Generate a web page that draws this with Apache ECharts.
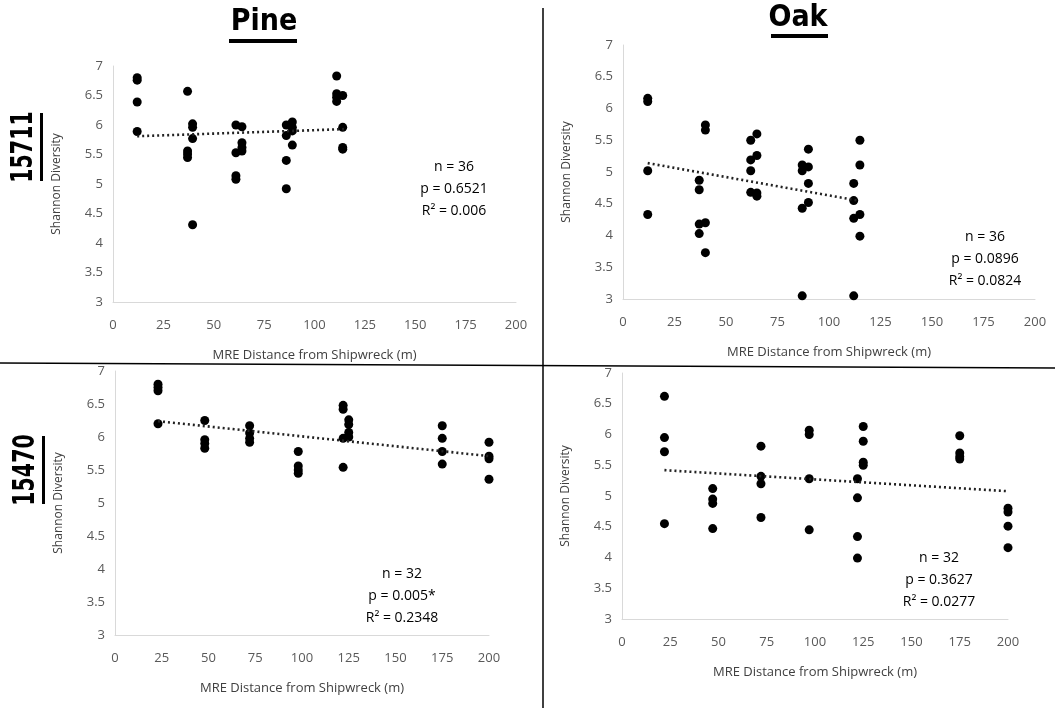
<!DOCTYPE html>
<html><head><meta charset="utf-8">
<script src="https://cdn.jsdelivr.net/npm/echarts@6/dist/echarts.min.js"></script>
<style>html,body{margin:0;padding:0;background:#fff}#c{width:1055px;height:708px}</style>
</head><body><div id="c"></div>
<script>
// ---- data ----
const columnTitles = ['Pine', 'Oak'];
const rowTitles = ['15711', '15470'];
const xAxisTitle = 'MRE Distance from Shipwreck (m)';
const yAxisTitle = 'Shannon Diversity';

const pine15711 = [
  [12,6.80],[12,6.76],[12,6.39],[12,5.89],
  [37,6.57],[37,5.56],[37,5.51],[37,5.45],
  [39.5,6.02],[39.5,5.96],[39.5,5.77],[39.5,4.31],
  [61,6.00],[61,5.53],[61,5.14],[61,5.08],
  [64,5.97],[64,5.70],[64,5.62],[64,5.56],
  [86,6.00],[86,5.82],[86,5.40],[86,4.92],
  [89,6.05],[89,5.96],[89,5.90],[89,5.66],
  [111,6.83],[111,6.53],[111,6.47],[111,6.40],
  [114,6.50],[114,5.96],[114,5.62],[114,5.59]
];
const oak15711 = [
  [12,6.16],[12,6.11],[12,5.02],[12,4.33],
  [37,4.87],[37,4.72],[37,4.18],[37,4.03],
  [40,5.74],[40,5.66],[40,4.20],[40,3.73],
  [62,5.50],[62,5.19],[62,5.02],[62,4.68],
  [65,5.60],[65,5.26],[65,4.67],[65,4.62],
  [87,5.11],[87,5.02],[87,4.43],[87,3.05],
  [90,5.36],[90,5.08],[90,4.82],[90,4.52],
  [112,4.82],[112,4.55],[112,4.27],[112,3.05],
  [115,5.50],[115,5.11],[115,4.33],[115,3.99]
];
const pine15470 = [
  [23,6.80],[23,6.75],[23,6.70],[23,6.20],
  [48,6.25],[48,5.96],[48,5.90],[48,5.83],
  [72,6.17],[72,6.06],[72,5.98],[72,5.92],
  [98,5.78],[98,5.56],[98,5.50],[98,5.45],
  [122,6.48],[122,6.42],[122,5.98],[122,5.54],
  [125,6.26],[125,6.19],[125,6.07],[125,6.00],
  [175,6.17],[175,5.98],[175,5.78],[175,5.59],
  [200,5.92],[200,5.71],[200,5.67],[200,5.36]
];
const oak15470 = [
  [22,6.62],[22,5.95],[22,5.72],[22,4.55],
  [47,5.12],[47,4.95],[47,4.88],[47,4.47],
  [72,5.81],[72,5.32],[72,5.20],[72,4.65],
  [97,6.07],[97,6.00],[97,5.28],[97,4.45],
  [122,5.28],[122,4.97],[122,4.34],[122,3.99],
  [125,6.13],[125,5.89],[125,5.55],[125,5.50],
  [175,5.98],[175,5.70],[175,5.64],[175,5.60],
  [200,4.80],[200,4.74],[200,4.51],[200,4.16]
];
// trend-line end points
const trendPine15711 = [[12,5.81],[115,5.93]];
const trendOak15711 = [[12,5.14],[114,4.55]];
const trendPine15470 = [[23,6.24],[200,5.71]];
const trendOak15470 = [[22,5.42],[199,5.08]];
// statistics text
const stats = [
  ['n = 36','p = 0.6521','R\u00b2 = 0.006'],
  ['n = 36','p = 0.0896','R\u00b2 = 0.0824'],
  ['n = 32','p = 0.005*','R\u00b2 = 0.2348'],
  ['n = 32','p = 0.3627','R\u00b2 = 0.0277']
];
const xMin = 0, xMax = 200, xStep = 25;
const yMin = 3, yMax = 7, yStep = 0.5;

// ---- layout ----
const FONT = "'Liberation Sans Narrow','DejaVu Sans Condensed','Open Sans',sans-serif";
const LFONT = "'Open Sans','Noto Sans',sans-serif";
const grids = [
  {left:113, top:66, width:403, height:236},
  {left:623, top:45, width:412, height:254},
  {left:115, top:371, width:374, height:264},
  {left:622, top:373, width:386, height:246}
];
const statPos = [[454,167],[985,237],[402,574],[939,558]];
const scatterSets = [pine15711, oak15711, pine15470, oak15470];
const trendSets = [trendPine15711, trendOak15711, trendPine15470, trendOak15470];

const axisLabel = {color:'#595959', fontSize:13, fontFamily:LFONT};
const xAxes = grids.map((g,i)=>({
  gridIndex:i, type:'value', min:xMin, max:xMax, interval:xStep,
  axisLine:{show:true, lineStyle:{color:'#d9d9d9', width:1}},
  axisTick:{show:false}, splitLine:{show:false},
  axisLabel:Object.assign({margin:17}, axisLabel),
  name:xAxisTitle, nameLocation:'middle', nameGap:47,
  nameTextStyle:{color:'#404040', fontSize:13, fontFamily:LFONT}
}));
const yAxes = grids.map((g,i)=>({
  gridIndex:i, type:'value', min:yMin, max:yMax, interval:yStep,
  axisLine:{show:true, lineStyle:{color:'#d9d9d9', width:1}},
  axisTick:{show:false}, splitLine:{show:false},
  axisLabel:Object.assign({margin:10}, axisLabel),
  name:yAxisTitle, nameLocation:'middle', nameGap:50,
  nameTextStyle:{color:'#404040', fontSize:12, fontFamily:LFONT}
}));
const series = [];
scatterSets.forEach((d,i)=>{
  series.push({type:'scatter', xAxisIndex:i, yAxisIndex:i, data:d,
    symbol:'circle', symbolSize:9, itemStyle:{color:'#000', opacity:1}, z:3});
  series.push({type:'line', xAxisIndex:i, yAxisIndex:i, data:trendSets[i],
    showSymbol:false, symbol:'none', lineStyle:{color:'#222', width:2.6, type:[2,3]}, z:4});
});

const graphic = [
  {type:'line', shape:{x1:543,y1:8,x2:543,y2:708}, style:{stroke:'#000', lineWidth:1.5}},
  {type:'line', shape:{x1:0,y1:363,x2:1055,y2:368}, style:{stroke:'#000', lineWidth:1.5}},
  {type:'text', x:264, y:22, style:{text:columnTitles[0], fill:'#000', font:"bold 30px "+FONT, textAlign:'center', textVerticalAlign:'middle'}},
  {type:'rect', shape:{x:229,y:39,width:68,height:4}, style:{fill:'#000'}},
  {type:'text', x:798, y:18, style:{text:columnTitles[1], fill:'#000', font:"bold 30px "+FONT, textAlign:'center', textVerticalAlign:'middle'}},
  {type:'rect', shape:{x:771,y:34,width:57,height:4}, style:{fill:'#000'}},
  {type:'text', x:24, y:147, rotation:Math.PI/2, scaleX:0.76, style:{text:rowTitles[0], fill:'#000', font:"bold 30px "+FONT, textAlign:'center', textVerticalAlign:'middle'}},
  {type:'rect', shape:{x:40,y:113,width:3,height:68}, style:{fill:'#000'}},
  {type:'text', x:26, y:470, rotation:Math.PI/2, scaleX:0.76, style:{text:rowTitles[1], fill:'#000', font:"bold 30px "+FONT, textAlign:'center', textVerticalAlign:'middle'}},
  {type:'rect', shape:{x:42,y:436,width:3,height:68}, style:{fill:'#000'}}
];
stats.forEach((lines,i)=>{
  lines.forEach((t,j)=>{
    graphic.push({type:'text', x:statPos[i][0], y:statPos[i][1]+j*22,
      style:{text:t, fill:'#000', font:"14px "+LFONT, textAlign:'center', textVerticalAlign:'middle'}});
  });
});

const chart = echarts.init(document.getElementById('c'), null, {renderer:'canvas'});
chart.setOption({
  animation:false, backgroundColor:'#fff',
  grid:grids, xAxis:xAxes, yAxis:yAxes, series:series, graphic:graphic
});
</script></body></html>
